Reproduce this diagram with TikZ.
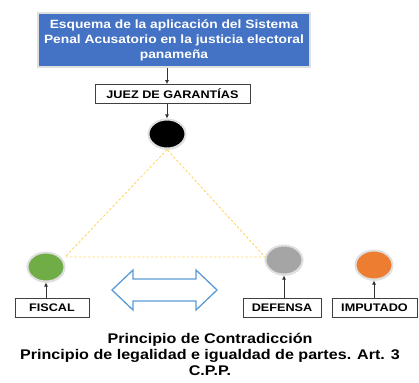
\documentclass[tikz,border=0pt]{standalone}
\usepackage{fontspec}
\setmainfont[FakeStretch=1.15]{Liberation Sans}
\usetikzlibrary{arrows.meta,shapes.geometric,shadows}
\definecolor{Titleblue}{RGB}{68,114,196}
\definecolor{Arrowblue}{RGB}{91,155,213}
\definecolor{Fiscalgreen}{RGB}{112,173,71}
\definecolor{Defensagray}{RGB}{165,165,165}
\definecolor{Imputadoorange}{RGB}{237,125,49}
\definecolor{Dashyellow}{RGB}{255,214,102}

\begin{document}
\begin{tikzpicture}[x=1pt, y=-1pt,
        party/.style={ellipse, draw=gray!25, line width=2pt, minimum width=37pt, minimum height=29pt, inner sep=0pt,
            drop shadow={shadow xshift=0.6pt, shadow yshift=-1.2pt, fill=gray!55}},
        rolebox/.style={draw=black!75, line width=0.8pt, fill=white, minimum height=19pt, inner sep=0pt, font=\bfseries\fontsize{11}{12}\selectfont},
        tip/.style={-{Latex[length=4pt,width=4pt]}, black!80, line width=0.7pt}]
            \useasboundingbox (0,0) rectangle (419,382);

            \node[fill=Titleblue, draw=gray!25, line width=1.5pt, minimum width=272pt, minimum height=54pt, inner sep=0pt,
                  drop shadow={shadow xshift=1pt, shadow yshift=-1.5pt, fill=gray!50},
                  text=white, align=center, font=\bfseries\fontsize{12}{15}\selectfont] (titulo) at (174,40)
                {Esquema de la aplicación del Sistema\\Penal Acusatorio en la justicia electoral\\panameña};
            \node[rolebox, minimum width=155pt] (juezbox) at (172.5,94) {JUEZ DE GARANTÍAS};

            \node[party, fill=black] (juez) at (167,134) {};
            \node[party, fill=Fiscalgreen] (fiscal) at (46,267) {};
            \node[party, fill=Defensagray] (defensa) at (284,260) {};
            \node[party, fill=Imputadoorange] (imputado) at (374,265) {};

            \node[rolebox, minimum width=74pt] (fiscalbox) at (52,307.5) {FISCAL};
            \node[rolebox, minimum width=78pt] (defensabox) at (282,307.5) {DEFENSA};
            \node[rolebox, minimum width=85pt] (imputadobox) at (374.5,307.5) {IMPUTADO};

            \draw[tip] (titulo.south -| juez) -- (juezbox.north -| juez);
            \draw[tip] (juezbox.south -| juez) -- (juez.north);
            \draw[tip] (fiscalbox.north -| fiscal) -- (fiscal.south);
            \draw[tip] (defensabox.north -| defensa) -- (defensa.south);
            \draw[tip] (imputadobox.north -| imputado) -- (imputado.south);

            \coordinate (izq) at (65,257);
            \coordinate (der) at (265,257);
            \draw[Dashyellow, line width=0.9pt, dash pattern=on 2.5pt off 2pt] (juez.south) -- (izq) -- (der) -- cycle;

            \draw[Arrowblue, line width=1.3pt, fill=white, line join=miter]
                (112,290) -- (133,270) -- (133,279) -- (196,279) -- (196,270) -- (217,290)
                -- (196,310) -- (196,301) -- (133,301) -- (133,310) -- cycle;

            \node[align=center, font=\bfseries\fontsize{14}{16}\selectfont] (principio) at (210,354)
                {Principio de Contradicción\\Principio de legalidad e igualdad de partes. Art. 3\\C.P.P.};
        \end{tikzpicture}
\end{document}
